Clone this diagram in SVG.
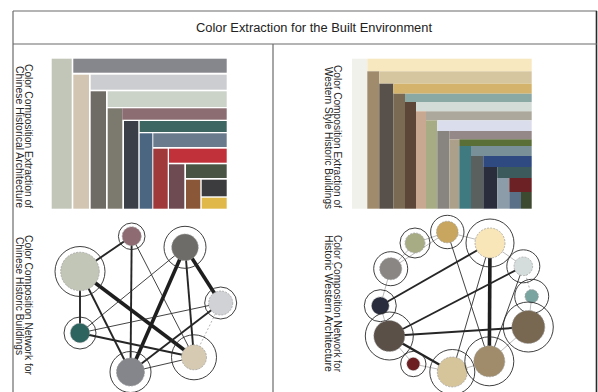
<svg xmlns="http://www.w3.org/2000/svg" width="598" height="392" viewBox="0 0 598 392">
  <style>
    .frame { fill: none; stroke: #6b6b6b; stroke-width: 1.2; }
    .title { font-family: "Liberation Sans", Arial, sans-serif; font-size: 12px; fill: #222; }
    .lbl { font-family: "Liberation Sans", Arial, sans-serif; font-size: 10px; fill: #262626; }
    .ring { fill: none; stroke: #2a2a2a; stroke-width: 0.9; }
    .core { stroke: #9c9c9c; stroke-width: 0.7; stroke-dasharray: 2 1.2; }
    .e1 { stroke: #2e2e2e; stroke-width: 0.9; }
    .e2 { stroke: #262626; stroke-width: 1.9; }
    .e3 { stroke: #1e1e1e; stroke-width: 3.6; }
    .el { stroke: #a8a8a8; stroke-width: 0.8; }
    .ed { stroke: #a0a0a0; stroke-width: 0.8; stroke-dasharray: 2 2; }
  </style>

  <rect width="598" height="392" fill="#ffffff"/>

  <!-- outer frame, title strip and panel divider -->
  <g id="frame">
    <line class="frame" x1="13" y1="11" x2="597" y2="11"/>
    <line class="frame" x1="13" y1="11" x2="13" y2="392"/>
    <line x1="596.5" y1="11" x2="596.5" y2="392" stroke="#2a2a2a" stroke-width="1.6"/>
    <line class="frame" x1="13" y1="44" x2="597" y2="44"/>
    <line class="frame" x1="273" y1="44" x2="273" y2="392"/>
    <text class="title" x="314" y="31.5" text-anchor="middle" textLength="236" lengthAdjust="spacingAndGlyphs">Color Extraction for the Built Environment</text>
  </g>

  <!-- panel captions, set vertically -->
  <g id="captions">
    <text class="lbl" transform="translate(24.5,64) rotate(90)" textLength="144" lengthAdjust="spacingAndGlyphs">Color Composition Extraction of</text>
    <text class="lbl" transform="translate(15.5,66) rotate(90)" textLength="142" lengthAdjust="spacingAndGlyphs">Chinese Historical Architecture</text>
    <text class="lbl" transform="translate(24.5,235) rotate(90)" textLength="140" lengthAdjust="spacingAndGlyphs">Color Composition Network for</text>
    <text class="lbl" transform="translate(15.5,237) rotate(90)" textLength="118" lengthAdjust="spacingAndGlyphs">Chinese Historic Buildings</text>
    <text class="lbl" transform="translate(334,65) rotate(90)" textLength="143" lengthAdjust="spacingAndGlyphs">Color Composition Extraction of</text>
    <text class="lbl" transform="translate(325,67) rotate(90)" textLength="142" lengthAdjust="spacingAndGlyphs">Western Style Historic Buildings</text>
    <text class="lbl" transform="translate(334,235) rotate(90)" textLength="137" lengthAdjust="spacingAndGlyphs">Color Composition Network for</text>
    <text class="lbl" transform="translate(325,235) rotate(90)" textLength="137" lengthAdjust="spacingAndGlyphs">Historic Western Architecture</text>
  </g>

  <!-- nested colour bands, Chinese architecture palette -->
  <g id="mosaic-chinese">
    <rect x="51.7" y="58.7" width="20" height="150" fill="#c2c6b8"/>
    <rect x="73.3" y="58.7" width="153.4" height="14" fill="#86878c"/>
    <rect x="73.3" y="74.7" width="15.7" height="134" fill="#d2c6b2"/>
    <rect x="90.7" y="74.7" width="136" height="15" fill="#cccdd0"/>
    <rect x="90.7" y="91.3" width="15.3" height="117.4" fill="#6f6c66"/>
    <rect x="107.7" y="91.3" width="119" height="15.7" fill="#cbd3c9"/>
    <rect x="107.7" y="108.3" width="14.6" height="100.4" fill="#7c7a6e"/>
    <rect x="122.3" y="108.3" width="104.4" height="11.4" fill="#8b6d72"/>
    <rect x="124" y="121" width="14.3" height="87.7" fill="#3b3f48"/>
    <rect x="139.7" y="121" width="87" height="11" fill="#3d6662"/>
    <rect x="139.7" y="133.3" width="12.6" height="75.4" fill="#4b6680"/>
    <rect x="153.3" y="133.3" width="73.4" height="13.7" fill="#6b7b8e"/>
    <rect x="153.3" y="148.7" width="14.4" height="60" fill="#a03a3a"/>
    <rect x="169" y="148.7" width="57.7" height="14" fill="#c0313a"/>
    <rect x="169" y="164.3" width="15.3" height="44.4" fill="#6e4a52"/>
    <rect x="186" y="164.3" width="40.7" height="13.7" fill="#4a5444"/>
    <rect x="186" y="179.7" width="14.3" height="29" fill="#8a5838"/>
    <rect x="201.7" y="179.7" width="25" height="16.6" fill="#3c3c3e"/>
    <rect x="201.7" y="197.7" width="25" height="11" fill="#e0b84a"/>
  </g>

  <!-- nested colour bands, Western-style palette -->
  <g id="mosaic-western">
    <rect x="352" y="58.7" width="15.3" height="150" fill="#f0f1ea"/>
    <rect x="367.3" y="58.7" width="164.4" height="12.6" fill="#f8e8c0"/>
    <rect x="367.3" y="71.3" width="12" height="137.4" fill="#a08c6c"/>
    <rect x="379.3" y="71.3" width="152.4" height="12.4" fill="#d6c6a0"/>
    <rect x="379.3" y="83.7" width="14" height="125" fill="#58504a"/>
    <rect x="393.3" y="83.7" width="138.4" height="10" fill="#d4b46c"/>
    <rect x="393.3" y="93.7" width="11.7" height="115" fill="#7a6a54"/>
    <rect x="405" y="93.7" width="126.7" height="8.3" fill="#8aa8a4"/>
    <rect x="405" y="102" width="11" height="106.7" fill="#5c4638"/>
    <rect x="416" y="102" width="115.7" height="9.3" fill="#d4dcd8"/>
    <rect x="416" y="111.3" width="10" height="97.4" fill="#c8a890"/>
    <rect x="426" y="111.3" width="105.7" height="9" fill="#aca89c"/>
    <rect x="426" y="120.3" width="11.3" height="88.4" fill="#a8ac84"/>
    <rect x="437.3" y="120.3" width="94.4" height="10.7" fill="#dadeec"/>
    <rect x="437.3" y="131" width="12" height="77.7" fill="#888480"/>
    <rect x="449.3" y="131" width="82.4" height="8.3" fill="#948888"/>
    <rect x="449.3" y="139.3" width="10" height="69.4" fill="#aca08a"/>
    <rect x="459.3" y="139.3" width="72.4" height="6.7" fill="#5a6e38"/>
    <rect x="459.3" y="146" width="11.7" height="62.7" fill="#3e7a80"/>
    <rect x="471" y="146" width="60.7" height="10" fill="#7a9098"/>
    <rect x="471" y="156" width="12.3" height="52.7" fill="#5a605e"/>
    <rect x="483.3" y="156" width="48.4" height="11" fill="#2e4a80"/>
    <rect x="483.3" y="167" width="14" height="41.7" fill="#2a2e3c"/>
    <rect x="497.3" y="167" width="34.4" height="11" fill="#3c5a5c"/>
    <rect x="497.3" y="178" width="12" height="30.7" fill="#8c9ca8"/>
    <rect x="509.3" y="178" width="22.4" height="14" fill="#6c2224"/>
    <rect x="509.3" y="192" width="11.7" height="16.7" fill="#5a7088"/>
    <rect x="521" y="192" width="10.7" height="16.7" fill="#3e4a30"/>
  </g>

  <!-- connectors of both colour networks -->
  <g id="connectors">
    <!-- Chinese network -->
    <line class="e2" x1="80" y1="271.5" x2="131.7" y2="236.3"/>
    <line class="e2" x1="131.7" y1="236.3" x2="130.5" y2="372"/>
    <line class="e1" x1="131.7" y1="236.3" x2="194" y2="357.3"/>
    <line class="e2" x1="80" y1="271.5" x2="80" y2="333"/>
    <line class="e2" x1="80" y1="271.5" x2="130.5" y2="372"/>
    <line class="e3" x1="80" y1="271.5" x2="194" y2="357.3"/>
    <line class="e1" x1="185" y1="247.3" x2="80" y2="333"/>
    <line class="e3" x1="185" y1="247.3" x2="130.5" y2="372"/>
    <line class="e2" x1="185" y1="247.3" x2="194" y2="357.3"/>
    <line class="e3" x1="185" y1="247.3" x2="220.7" y2="303"/>
    <line class="e1" x1="220.7" y1="303" x2="80" y2="333"/>
    <line class="e2" x1="220.7" y1="303" x2="130.5" y2="372"/>
    <line class="ed" x1="220.7" y1="303" x2="194" y2="357.3"/>
    <line class="e2" x1="80" y1="333" x2="194" y2="357.3"/>
    <line class="e1" x1="130.5" y1="372" x2="194" y2="357.3"/>
    <!-- Western network -->
    <line class="e3" x1="490" y1="243" x2="489.3" y2="361.3"/>
    <line class="e2" x1="490" y1="243" x2="380.3" y2="305.7"/>
    <line class="e1" x1="490" y1="243" x2="452.3" y2="372"/>
    <line class="el" x1="490" y1="243" x2="447.3" y2="232"/>
    <line class="e1" x1="447.3" y1="232" x2="489.3" y2="361.3"/>
    <line class="el" x1="447.3" y1="232" x2="390.7" y2="268.7"/>
    <line class="el" x1="415" y1="243" x2="447.3" y2="232"/>
    <line class="el" x1="415" y1="243" x2="390.7" y2="268.7"/>
    <line class="el" x1="390.7" y1="268.7" x2="380.3" y2="305.7"/>
    <line class="e2" x1="523.3" y1="266.3" x2="389.3" y2="336"/>
    <line class="e1" x1="523.3" y1="266.3" x2="489.3" y2="361.3"/>
    <line class="el" x1="523.3" y1="266.3" x2="490" y2="243"/>
    <line class="ed" x1="523.3" y1="266.3" x2="531.7" y2="296.3"/>
    <line class="el" x1="531.7" y1="296.3" x2="528.3" y2="327"/>
    <line class="e2" x1="528.3" y1="327" x2="389.3" y2="336"/>
    <line class="el" x1="528.3" y1="327" x2="489.3" y2="361.3"/>
    <line class="el" x1="389.3" y1="336" x2="380.3" y2="305.7"/>
    <line x1="389.3" y1="336" x2="452.3" y2="372" stroke="#222" stroke-width="2.4"/>
    <line class="el" x1="389.3" y1="336" x2="413.3" y2="364"/>
    <line class="el" x1="413.3" y1="364" x2="452.3" y2="372"/>
    <line class="el" x1="452.3" y1="372" x2="489.3" y2="361.3"/>
  </g>

  <!-- Chinese network nodes -->
  <g id="cn-mauve"><circle class="ring" cx="131.7" cy="236.3" r="13.3"/><circle class="core" cx="131.7" cy="236.3" r="9.5" fill="#8e6a72"/></g>
  <g id="cn-darkgray"><circle class="ring" cx="185" cy="247.3" r="21"/><circle class="core" cx="185" cy="247.3" r="13.3" fill="#6e6c68"/></g>
  <g id="cn-sage"><circle class="ring" cx="80" cy="271.5" r="25"/><circle class="core" cx="80" cy="271.5" r="19.3" fill="#c2c6b6"/></g>
  <g id="cn-lightgray"><circle class="ring" cx="220.7" cy="303" r="16"/><circle class="core" cx="220.7" cy="303" r="12" fill="#d0d2d6"/></g>
  <g id="cn-teal"><circle class="ring" cx="80" cy="333" r="16"/><circle class="core" cx="80" cy="333" r="9.7" fill="#2e6460"/></g>
  <g id="cn-beige"><circle class="ring" cx="194" cy="357.3" r="22.5"/><circle class="core" cx="194" cy="357.3" r="12.5" fill="#d6cab2"/></g>
  <g id="cn-gray"><circle class="ring" cx="130.5" cy="372" r="20.5"/><circle class="core" cx="130.5" cy="372" r="14" fill="#84868c"/></g>

  <!-- Western network nodes -->
  <g id="ws-gold"><circle class="ring" cx="447.3" cy="232" r="16.7"/><circle class="core" cx="447.3" cy="232" r="10.8" fill="#c8a660"/></g>
  <g id="ws-olive"><circle class="ring" cx="415" cy="243" r="15"/><circle class="core" cx="415" cy="243" r="10" fill="#a8ac84"/></g>
  <g id="ws-paleyellow"><circle class="ring" cx="490" cy="243" r="24"/><circle class="core" cx="490" cy="243" r="15" fill="#f8e6b8"/></g>
  <g id="ws-gray"><circle class="ring" cx="390.7" cy="268.7" r="17"/><circle class="core" cx="390.7" cy="268.7" r="11" fill="#8a8684"/></g>
  <g id="ws-paleblue"><circle class="ring" cx="523.3" cy="266.3" r="16.5"/><circle class="core" cx="523.3" cy="266.3" r="9.3" fill="#d4dcdc"/></g>
  <g id="ws-smallteal"><circle class="ring" cx="531.7" cy="296.3" r="17"/><circle class="core" cx="531.7" cy="296.3" r="6.7" fill="#7aa4a0"/></g>
  <g id="ws-navy"><circle class="ring" cx="380.3" cy="305.7" r="16"/><circle class="core" cx="380.3" cy="305.7" r="8.8" fill="#282c3c"/></g>
  <g id="ws-bigbrown"><circle class="ring" cx="528.3" cy="327" r="25"/><circle class="core" cx="528.3" cy="327" r="16.5" fill="#786852"/></g>
  <g id="ws-darkbrown"><circle class="ring" cx="389.3" cy="336" r="24"/><circle class="core" cx="389.3" cy="336" r="15.5" fill="#5a5048"/></g>
  <g id="ws-darkred"><circle class="ring" cx="413.3" cy="364" r="12.7"/><circle class="core" cx="413.3" cy="364" r="6.5" fill="#6c1e20"/></g>
  <g id="ws-sand"><circle class="ring" cx="452.3" cy="372" r="22.5"/><circle class="core" cx="452.3" cy="372" r="15" fill="#d6c49a"/></g>
  <g id="ws-tan"><circle class="ring" cx="489.3" cy="361.3" r="24.5"/><circle class="core" cx="489.3" cy="361.3" r="15.5" fill="#a08c6a"/></g>
</svg>
